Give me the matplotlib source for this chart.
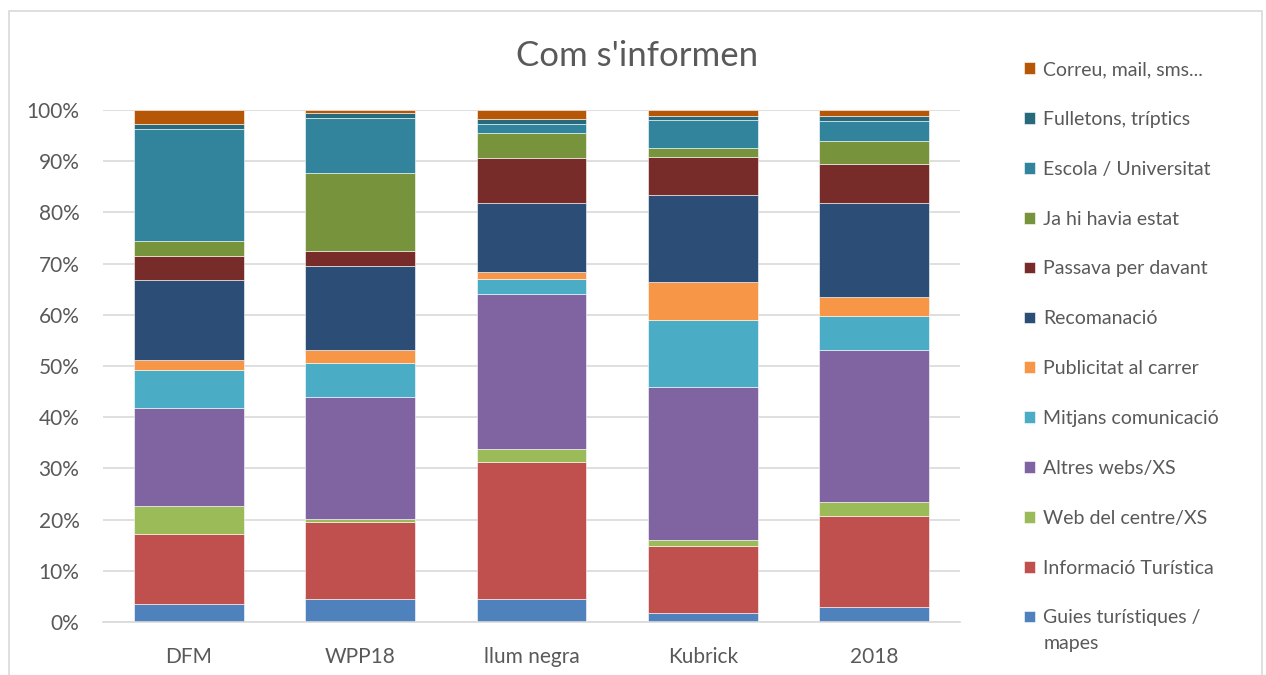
import matplotlib.pyplot as plt
import numpy as np
from matplotlib.patches import Rectangle
from matplotlib.ticker import PercentFormatter

plt.rcParams['font.family'] = ['Lato', 'DejaVu Sans']

categories = ['DFM', 'WPP18', 'llum negra', 'Kubrick', '2018']

# series, bottom to top (percent of each bar)
series_names = [
    'Guies turístiques /\nmapes',
    'Informació Turística',
    'Web del centre/XS',
    'Altres webs/XS',
    'Mitjans comunicació',
    'Publicitat al carrer',
    'Recomanació',
    'Passava per davant',
    'Ja hi havia estat',
    'Escola / Universitat',
    'Fulletons, tríptics',
    'Correu, mail, sms...',
]
guies = [3.6, 4.4, 4.4, 1.7, 3.0]
info_turistica = [13.6, 15.1, 26.8, 13.2, 17.8]
web_centre = [5.5, 0.6, 2.6, 1.1, 2.7]
altres_webs = [19.1, 23.8, 30.2, 29.9, 29.6]
mitjans = [7.4, 6.6, 2.9, 13.0, 6.6]
publicitat = [2.0, 2.6, 1.5, 7.6, 3.7]
recomanacio = [15.5, 16.4, 13.4, 16.9, 18.4]
passava = [4.7, 3.0, 8.9, 7.4, 7.6]
ja_hi = [3.0, 15.2, 4.9, 1.8, 4.6]
escola = [21.8, 10.8, 1.6, 5.4, 3.8]
fulletons = [1.0, 1.0, 1.1, 0.8, 1.0]
correu = [2.8, 0.5, 1.7, 1.2, 1.2]

series_values = [guies, info_turistica, web_centre, altres_webs, mitjans, publicitat,
                 recomanacio, passava, ja_hi, escola, fulletons, correu]
colors = ['#4F81BD', '#C0504D', '#9BBB59', '#8064A2', '#4BACC6', '#F79646',
          '#2C4D75', '#772C2A', '#77933C', '#31849B', '#276A7C', '#B65708']

fig = plt.figure(figsize=(12.66, 6.75), dpi=100)
W, H = 1266, 675
# chart border
fig.patches.append(Rectangle((9 / W, -0.01), (1262 - 9) / W, 1 - 11 / H + 0.01,
                             transform=fig.transFigure, fill=False,
                             edgecolor='#D9D9D9', linewidth=1.2))

ax = fig.add_axes([103 / W, 1 - 622 / H, (960 - 103) / W, (622 - 110) / H])

x = np.arange(len(categories))
bottom = np.zeros(len(categories))
handles = []
for name, vals, col in zip(series_names, series_values, colors):
    vals = np.array(vals)
    b = ax.bar(x, vals, 0.64, bottom=bottom, color=col, label=name,
               edgecolor='white', linewidth=0.4)
    handles.append(b)
    bottom += vals

ax.set_xlim(-0.5, len(categories) - 0.5)
ax.set_ylim(0, 100)
ax.set_yticks(np.arange(0, 101, 10))
ax.yaxis.set_major_formatter(PercentFormatter(decimals=0))
ax.set_xticks(x)
ax.set_xticklabels(categories)
ax.grid(axis='y', color='#D9D9D9', linewidth=1.2)
ax.set_axisbelow(True)
for s in ['top', 'right', 'left']:
    ax.spines[s].set_visible(False)
ax.spines['bottom'].set_color('#D9D9D9')
ax.spines['bottom'].set_linewidth(1.2)
ax.tick_params(length=0, labelsize=15, colors='#595959')
ax.tick_params(axis='x', pad=18)
ax.tick_params(axis='y', pad=17)

fig.text(637 / W, 1 - 56 / H, "Com s'informen", ha='center', va='center',
         fontsize=25, color='#595959')

# legend shows first line of each label; wrapped remainder drawn under it
leg_labels = [n.split('\n')[0] for n in series_names[::-1]]
leg = fig.legend(handles[::-1], leg_labels, loc='upper left',
                 bbox_to_anchor=(1024 / W, 1 - 61 / H), frameon=False,
                 fontsize=14, labelcolor='#595959', handlelength=0.55,
                 handleheight=0.55, handletextpad=0.45, labelspacing=1.69,
                 borderpad=0, borderaxespad=0)

fig.canvas.draw()
inv = fig.transFigure.inverted()
for txt, full in zip(leg.get_texts(), series_names[::-1]):
    rest = full.split('\n')[1:]
    if rest:
        bb = txt.get_window_extent()
        x0, y0 = inv.transform((bb.x0, bb.y0 - 26 + bb.height / 2))
        fig.text(x0, y0, '\n'.join(rest), ha='left', va='center',
                 fontsize=14, color='#595959')

fig.savefig('out.png', dpi=100)
